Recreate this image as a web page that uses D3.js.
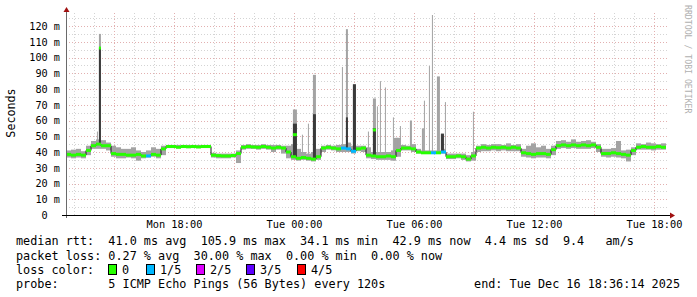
<!DOCTYPE html>
<html>
<head>
<meta charset="utf-8">
<script src="https://cdn.jsdelivr.net/npm/d3@7"></script>
<style>
  body { margin: 0; background: #fff; }
  svg text { font-family: "DejaVu Sans Mono", monospace; white-space: pre; }
</style>
</head>
<body>
<svg id="chart" width="697" height="297"></svg>
<script>
// sample grid: 15 minute slots starting at the left edge of the graph
const startTime = new Date(2025, 11, 15, 12, 36, 14);
const endTime = new Date(2025, 11, 16, 18, 36, 14);
const slotMinutes = 15;

// median rtt per slot (ms)
const medianRtt = [
  38.5, 38, 38.5, 38, 41, 44, 45, 44, 44, 39, 38.5, 38.5, 38, 38, 38.5, 37.5, 37.5, 38.5, 38, 42,
  43.5, 43.5, 43, 43.5, 43.3, 43.5, 43.2, 43.5, 43.5, 38, 37.7, 37.5, 37.5, 37.8, 39, 43, 43.5, 43.2, 43, 43.5,
  43, 42.5, 43, 42.5, 40, 37, 36, 36.5, 36, 35.5, 37, 42.5, 43, 42.5, 42, 42.5, 42, 40.5, 42, 42.5,
  38, 37.5, 37, 37, 37.5, 37, 41, 42.5, 42.5, 42, 40, 39.5, 39.5, 39.5, 39.5, 40, 37, 37, 37.5, 37,
  35.5, 37.5, 42.5, 43, 42.5, 43, 42.7, 43, 42.5, 43, 42.5, 39.5, 39, 38.5, 39, 39, 38.5, 41.5, 44, 44.5,
  44, 44.5, 44, 44.5, 44, 44.5, 43, 39, 39, 39.5, 39, 38.5, 38, 41, 43, 43.5, 43, 43, 43.5, 43
];

// smoke band (min / max of the pings) per slot (ms)
const smokeLow = [
  36.5, 36, 36.5, 36, 38, 42, 42, 42, 41, 37, 36, 36, 36.5, 36, 34.5, 36, 36.5, 37, 36, 38,
  42.5, 42.5, 42.5, 42.5, 42.5, 42.5, 42.5, 42.5, 42.5, 36.5, 36, 36, 36, 36.5, 33, 41.5, 42, 42, 41.5, 42,
  41.5, 40, 41.5, 39, 36, 35, 34.5, 35, 34.5, 34, 35, 40, 41.5, 41, 40, 40, 40, 39, 40.5, 40,
  36, 35.5, 35, 35, 35, 34.5, 37, 41, 41, 40, 39, 39, 39, 39, 39, 39, 35.5, 35.5, 36, 35,
  34, 34.5, 40, 40.5, 40.5, 41, 40.5, 41, 40.5, 40.5, 40.5, 37, 36.5, 36, 36.5, 36.5, 36, 38, 42, 42.5,
  42, 42.5, 42, 42, 42, 42.5, 40, 37, 36.5, 37, 36.5, 36, 34, 38, 41.5, 41.5, 41.5, 41, 41.5, 41.5
];
const smokeHigh = [
  41, 41.5, 42, 40.5, 44, 47, 48, 47.5, 46, 44, 43, 42, 42, 43, 41, 40, 41, 43, 42, 44,
  44.5, 44.5, 44.5, 44.5, 44.5, 44.5, 44.5, 44.5, 44.5, 39.5, 39, 39, 39, 39, 41, 44.5, 45, 44.5, 44.5, 45,
  44.5, 44.5, 44.5, 44, 44, 45, 42, 40, 39, 40, 42, 44, 44.5, 44, 44.5, 45, 46, 44, 44, 44,
  43, 40, 40, 40, 40, 41, 49, 44.5, 44, 45, 42, 41, 41, 41, 41, 42, 39, 39, 39, 39,
  38, 40, 44, 45, 44.5, 45, 45, 44.5, 45.5, 44.5, 45, 42, 44, 45.5, 43, 44, 42, 44, 47, 47.5,
  46.5, 48, 46.5, 47, 47.5, 46.5, 45, 42, 42, 42.5, 47, 41, 41.5, 43, 45.5, 45, 46, 45.5, 45, 45.5
];

// packet loss per slot (lost pings out of 5)
const lossLevel = [
  0, 0, 0, 0, 0, 0, 0, 0, 0, 0, 0, 0, 0, 0, 0, 0, 1, 0, 0, 0,
  0, 0, 0, 0, 0, 0, 0, 0, 0, 0, 0, 0, 0, 0, 0, 0, 0, 0, 0, 0,
  0, 0, 0, 0, 0, 0, 0, 0, 0, 0, 0, 0, 0, 0, 0, 1, 1, 1, 0, 0,
  0, 0, 0, 0, 0, 0, 0, 0, 0, 0, 0, 0, 0, 1, 0, 1, 0, 0, 0, 0,
  0, 0, 0, 0, 0, 0, 0, 0, 0, 0, 0, 0, 0, 0, 0, 0, 0, 0, 0, 0,
  0, 0, 0, 0, 0, 0, 0, 0, 0, 0, 0, 0, 0, 0, 0, 0, 0, 0, 0, 0
];

// short latency spikes
const spikeStart = [
  "2025-12-15T14:15", "2025-12-15T14:09", "2025-12-15T23:57", "2025-12-16T00:24", "2025-12-16T00:42",
  "2025-12-16T00:57", "2025-12-16T02:24", "2025-12-16T02:36", "2025-12-16T02:57", "2025-12-16T03:42",
  "2025-12-16T03:57", "2025-12-16T04:09", "2025-12-16T04:18", "2025-12-16T04:33", "2025-12-16T04:57",
  "2025-12-16T05:00", "2025-12-16T05:18", "2025-12-16T05:48", "2025-12-16T06:24", "2025-12-16T06:30",
  "2025-12-16T06:45", "2025-12-16T06:54", "2025-12-16T07:09", "2025-12-16T07:21", "2025-12-16T07:33",
  "2025-12-16T08:57"
];
const spikeMinutes = [6, 3, 12, 3, 3, 9, 3, 6, 9, 3, 9, 3, 3, 3, 3, 12, 3, 6, 6, 3, 3, 3, 9, 9, 3, 3];
const spikeMax = [115, 53, 67, 51, 58, 89, 94, 118, 83, 53, 74, 69, 85, 81, 62, 49, 56.5, 60, 55, 72.6, 94.6, 127, 88, 52, 71.7, 65.6];
const spikeDark = [106, 0, 58, 0, 0, 64, 0, 62, 83, 0, 55, 0, 0, 0, 0, 0, 0, 0, 0, 0, 0, 0, 0, 51.4, 0, 0];
const spikeMedian = [106, 0, 51, 0, 0, 0, 0, 0, 0, 0, 54, 0, 0, 0, 0, 0, 0, 0, 0, 0, 0, 0, 0, 0, 0, 0];

const yTicks = [0, 10, 20, 30, 40, 50, 60, 70, 80, 90, 100, 110, 120];
const xLabelTimes = ["2025-12-15T18:00", "2025-12-16T00:00", "2025-12-16T06:00", "2025-12-16T12:00", "2025-12-16T18:00"];

const legendLines = [
  "median rtt:  41.0 ms avg  105.9 ms max  34.1 ms min  42.9 ms now  4.4 ms sd  9.4   am/s",
  "packet loss: 0.27 % avg  30.00 % max  0.00 % min  0.00 % now",
  "loss color:",
  "probe:       5 ICMP Echo Pings (56 Bytes) every 120s"
];
const lossLabels = ["0", "1/5", "2/5", "3/5", "4/5"];
const lossColors = ["#26ff00", "#00b8ff", "#dd00ff", "#5e00ff", "#ff0000"];
const endLabel = "end: Tue Dec 16 18:36:14 2025";

const svg = d3.select('#chart');
const plot = { left: 66, right: 666, top: 15, bottom: 215 };

const x = d3.scaleTime().domain([startTime, endTime]).range([plot.left, plot.right]);
const y = d3.scaleLinear().domain([0, 127]).range([plot.bottom, plot.top]);

const slotStart = i => d3.timeMinute.offset(startTime, i * slotMinutes);

// grid
const gGrid = svg.append('g');
d3.range(5, 126, 5).forEach(v => {
  gGrid.append('line')
    .attr('x1', plot.left).attr('x2', plot.right + 2)
    .attr('y1', Math.round(y(v)) + 0.5).attr('y2', Math.round(y(v)) + 0.5)
    .attr('stroke', v % 10 === 0 ? '#e2b0b0' : '#d4d4d4')
    .attr('stroke-dasharray', '1,2');
});
d3.timeHour.range(startTime, endTime).forEach(t => {
  const major = t.getHours() % 3 === 0;
  gGrid.append('line')
    .attr('x1', Math.round(x(t)) + 0.5).attr('x2', Math.round(x(t)) + 0.5)
    .attr('y1', plot.top - 2).attr('y2', plot.bottom)
    .attr('stroke', major ? '#e2b0b0' : '#d4d4d4')
    .attr('stroke-dasharray', '1,2');
});

// smoke
const gData = svg.append('g');
gData.selectAll('rect.smoke')
  .data(medianRtt)
  .enter().append('rect')
  .attr('class', 'smoke')
  .attr('x', (d, i) => x(slotStart(i)))
  .attr('width', (d, i) => x(slotStart(i + 1)) - x(slotStart(i)))
  .attr('y', (d, i) => y(smokeHigh[i]))
  .attr('height', (d, i) => y(smokeLow[i]) - y(smokeHigh[i]))
  .attr('fill', '#a3a3a3');

// spikes
const spikes = spikeStart.map((s, i) => {
  const t = new Date(s);
  const slot = Math.floor((t - startTime) / (slotMinutes * 60000));
  return {
    t0: t,
    t1: d3.timeMinute.offset(t, spikeMinutes[i]),
    base: medianRtt[slot],
    max: spikeMax[i],
    dark: spikeDark[i],
    med: spikeMedian[i]
  };
});

gData.selectAll('rect.spike')
  .data(spikes)
  .enter().append('rect')
  .attr('class', 'spike')
  .attr('x', d => x(d.t0))
  .attr('width', d => Math.max(1, x(d.t1) - x(d.t0)))
  .attr('y', d => y(d.max))
  .attr('height', d => y(d.base) - y(d.max))
  .attr('fill', '#a3a3a3');

gData.selectAll('rect.dark')
  .data(spikes.filter(d => d.dark > 0))
  .enter().append('rect')
  .attr('class', 'dark')
  .attr('x', d => x(d.t0))
  .attr('width', d => Math.max(1, x(d.t1) - x(d.t0)))
  .attr('y', d => y(d.dark))
  .attr('height', d => y(d.base) - y(d.dark))
  .attr('fill', '#3a3a3a');

// median: thin dark step line, then loss-coloured thick segments
const stepLine = d3.line()
  .x(d => x(d.t))
  .y(d => y(d.v))
  .curve(d3.curveStepAfter);
const medPts = medianRtt.map((v, i) => ({ t: slotStart(i), v }));
medPts.push({ t: endTime, v: medianRtt[medianRtt.length - 1] });
gData.append('path')
  .attr('d', stepLine(medPts))
  .attr('fill', 'none')
  .attr('stroke', '#1a1a1a')
  .attr('stroke-width', 1);

gData.selectAll('line.med')
  .data(medianRtt)
  .enter().append('line')
  .attr('class', 'med')
  .attr('x1', (d, i) => x(slotStart(i)))
  .attr('x2', (d, i) => x(slotStart(i + 1)))
  .attr('y1', d => y(d))
  .attr('y2', d => y(d))
  .attr('stroke', (d, i) => lossColors[lossLevel[i]])
  .attr('stroke-width', 3);

gData.selectAll('line.spikemed')
  .data(spikes.filter(d => d.med > 0))
  .enter().append('line')
  .attr('class', 'spikemed')
  .attr('x1', d => x(d.t0))
  .attr('x2', d => x(d.t1))
  .attr('y1', d => y(d.med))
  .attr('y2', d => y(d.med))
  .attr('stroke', lossColors[0])
  .attr('stroke-width', 3);

// axes
const gyAxis = svg.append('g')
  .attr('transform', `translate(${plot.left},0)`)
  .call(d3.axisLeft(y).tickValues(yTicks).tickSize(0).tickPadding(6)
    .tickFormat(v => v === 0 ? '0  ' : v + ' m'));
gyAxis.select('.domain').remove();
gyAxis.selectAll('text')
  .attr('font-family', 'DejaVu Sans Mono')
  .attr('font-size', 10.2)
  .attr('fill', '#000');

const gxAxis = svg.append('g')
  .attr('transform', `translate(0,${plot.bottom})`)
  .call(d3.axisBottom(x).tickValues(xLabelTimes.map(s => new Date(s))).tickSize(0).tickPadding(6)
    .tickFormat(d3.timeFormat('%a %H:%M')));
gxAxis.select('.domain').remove();
gxAxis.selectAll('text')
  .attr('font-family', 'DejaVu Sans Mono')
  .attr('font-size', 10.3)
  .attr('fill', '#000');

svg.append('line')
  .attr('x1', plot.left + 0.5).attr('x2', plot.left + 0.5)
  .attr('y1', plot.bottom + 3).attr('y2', 10)
  .attr('stroke', '#6a6a6a');
svg.append('line')
  .attr('x1', plot.left - 4).attr('x2', plot.right + 5)
  .attr('y1', plot.bottom + 0.5).attr('y2', plot.bottom + 0.5)
  .attr('stroke', '#000');
svg.append('path')
  .attr('d', `M${plot.left - 2.5},12 L${plot.left + 3.5},12 L${plot.left + 0.5},7 Z`)
  .attr('fill', '#a01010');
svg.append('path')
  .attr('d', `M${plot.right + 4},${plot.bottom - 2.5} L${plot.right + 4},${plot.bottom + 3.5} L${plot.right + 9},${plot.bottom + 0.5} Z`)
  .attr('fill', '#a01010');

// axis title and credit
svg.append('text')
  .attr('transform', 'translate(15,113) rotate(-90)')
  .attr('text-anchor', 'middle')
  .attr('font-size', 11.7)
  .text('Seconds');

svg.append('text')
  .attr('transform', 'translate(685,5) rotate(90)')
  .attr('font-size', 8.2)
  .attr('fill', '#b0b0b0')
  .text('RRDTOOL / TOBI OETIKER');

// legend
const legendY = [245, 259.5, 273.5, 288];
legendLines.forEach((s, i) => {
  svg.append('text')
    .attr('x', 16).attr('y', legendY[i])
    .attr('font-size', 11.8)
    .text(s);
});
svg.append('text')
  .attr('x', 680).attr('y', legendY[3])
  .attr('text-anchor', 'end')
  .attr('font-size', 11.8)
  .text(endLabel);

const lossBoxX = [108, 146, 196, 246, 297];
lossLabels.forEach((s, i) => {
  svg.append('rect')
    .attr('x', lossBoxX[i] + 0.5).attr('y', 264.5)
    .attr('width', 8).attr('height', 10)
    .attr('fill', lossColors[i])
    .attr('stroke', '#000');
  svg.append('text')
    .attr('x', lossBoxX[i] + 14).attr('y', legendY[2])
    .attr('font-size', 11.8)
    .text(s);
});
</script>
</body>
</html>
